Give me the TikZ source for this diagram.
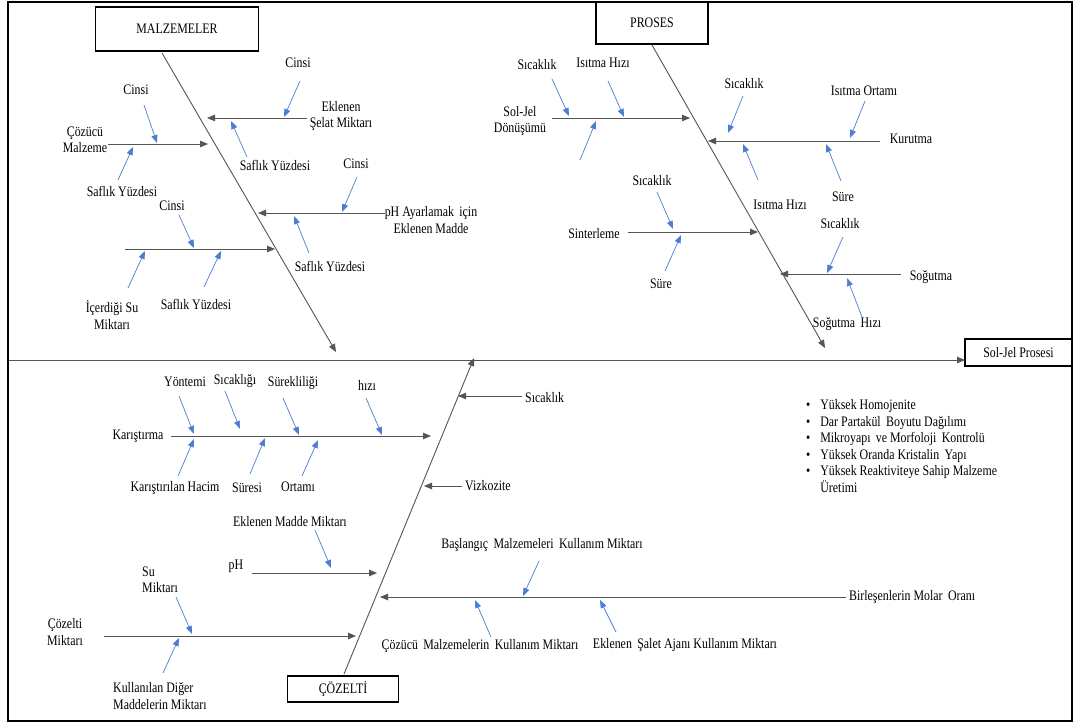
\documentclass[tikz,border=0pt]{standalone}
\usepackage{fontspec}
\setmainfont{Liberation Serif}[FakeStretch=0.82]
\usetikzlibrary{arrows.meta}
\definecolor{bonegray}{RGB}{85,85,85}
\definecolor{subblue}{RGB}{76,125,210}
\tikzset{
  txt/.style={font=\fontsize{14.5}{16.5}\selectfont, inner sep=1pt, align=center},
  catbox/.style={draw=black, line width=1.4pt, fill=white, font=\fontsize{14.5}{16}\selectfont, inner sep=0pt},
  bone/.style={draw=bonegray, line width=0.9pt},
  tipbone/.style={bone, -{Triangle[length=8pt,width=6.5pt]}},
  cause/.style={draw=subblue, line width=0.7pt, -{Triangle[length=8pt,width=6pt]}}
}
\begin{document}
\begin{tikzpicture}[x=1pt,y=-1pt]
\useasboundingbox (0,0) rectangle (1075,725);
\fill[white] (0,0) rectangle (1075,725);

% ---------- category boxes ----------
\node[catbox, minimum width=163pt, minimum height=44pt] (malz) at (177,29) {MALZEMELER};
\node[catbox, minimum width=112pt, minimum height=42pt] (proses) at (652,23) {PROSES};
\node[catbox, minimum width=111pt, minimum height=26pt] (cozelti) at (343,689) {ÇÖZELTİ};
\node[catbox, minimum width=107pt, minimum height=27pt] (sonuc) at (1018.5,352.5) {Sol-Jel Prosesi};

% ---------- main spine ----------
\coordinate (spineL) at (8,360);
\coordinate (spineR) at (965,360);
\draw[tipbone] (spineL) -- (spineR);

% ---------- diagonal bones ----------
\coordinate (mTop) at (162,53);  \coordinate (mEnd) at (336,352);
\coordinate (pTop) at (652,45);  \coordinate (pEnd) at (825,348);
\coordinate (cBot) at (344,674); \coordinate (cEnd) at (474,358);
\draw[tipbone] (mTop) -- (mEnd);
\draw[tipbone] (pTop) -- (pEnd);
\draw[tipbone] (cBot) -- (cEnd);

% ================= MALZEMELER =================
\node[txt] (mCoz) at (85,140) {Çözücü\\Malzeme};
\coordinate (mb1s) at (108,144); \coordinate (mb1e) at (208,144);
\draw[tipbone] (mb1s) -- (mb1e);
\node[txt] (mCins1) at (136,90) {Cinsi};
\coordinate (a1s) at (144,105); \coordinate (a1e) at (157,143);
\draw[cause] (a1s) -- (a1e);
\node[txt] (mSaf1) at (122,191) {Saflık Yüzdesi};
\coordinate (a2s) at (118,180); \coordinate (a2e) at (133,147);
\draw[cause] (a2s) -- (a2e);

\node[txt] (mSelat) at (341,116) {Eklenen\\Şelat Miktarı};
\coordinate (mb2s) at (307,118); \coordinate (mb2e) at (207,118);
\draw[tipbone] (mb2s) -- (mb2e);
\node[txt] (mCins2) at (298,63) {Cinsi};
\coordinate (a3s) at (300,81); \coordinate (a3e) at (284,117);
\draw[cause] (a3s) -- (a3e);
\node[txt] (mSaf2) at (275,165) {Saflık Yüzdesi};
\coordinate (a4s) at (247,157); \coordinate (a4e) at (231,121);
\draw[cause] (a4s) -- (a4e);

\node[txt] (mPH) at (431,220) {pH Ayarlamak\, için\\Eklenen Madde};
\coordinate (mb3s) at (385,213); \coordinate (mb3e) at (258,213);
\draw[tipbone] (mb3s) -- (mb3e);
\node[txt] (mCins3) at (356,164) {Cinsi};
\coordinate (a5s) at (357,177); \coordinate (a5e) at (342,212);
\draw[cause] (a5s) -- (a5e);
\node[txt] (mSaf3) at (330,266) {Saflık Yüzdesi};
\coordinate (a6s) at (309,253); \coordinate (a6e) at (294,216);
\draw[cause] (a6s) -- (a6e);

\coordinate (mb4s) at (125,249); \coordinate (mb4e) at (275,249);
\draw[tipbone] (mb4s) -- (mb4e);
\node[txt] (mCins4) at (172,206) {Cinsi};
\coordinate (a7s) at (179,215); \coordinate (a7e) at (194,248);
\draw[cause] (a7s) -- (a7e);
\node[txt] (mSu) at (112,315) {İçerdiği Su\\Miktarı};
\coordinate (a8s) at (128,288); \coordinate (a8e) at (145,251);
\draw[cause] (a8s) -- (a8e);
\node[txt] (mSaf4) at (196,304) {Saflık Yüzdesi};
\coordinate (a9s) at (204,287); \coordinate (a9e) at (221,251);
\draw[cause] (a9s) -- (a9e);

% ================= PROSES =================
\node[txt] (pSJ) at (520,121) {Sol-Jel\\Dönüşümü};
\coordinate (pb1s) at (552,118); \coordinate (pb1e) at (690,118);
\draw[tipbone] (pb1s) -- (pb1e);
\node[txt] (pSic1) at (537,65) {Sıcaklık};
\coordinate (b1s) at (552,79); \coordinate (b1e) at (569,116);
\draw[cause] (b1s) -- (b1e);
\node[txt] (pIs1) at (603,63) {Isıtma Hızı};
\coordinate (b2s) at (608,81); \coordinate (b2e) at (624,117);
\draw[cause] (b2s) -- (b2e);
\coordinate (b3s) at (580,160); \coordinate (b3e) at (596,121);
\draw[cause] (b3s) -- (b3e);

\node[txt] (pKur) at (911,139) {Kurutma};
\coordinate (pb2s) at (880,141); \coordinate (pb2e) at (708,141);
\draw[tipbone] (pb2s) -- (pb2e);
\node[txt] (pSic2) at (744,84) {Sıcaklık};
\coordinate (b4s) at (743,96); \coordinate (b4e) at (728,133);
\draw[cause] (b4s) -- (b4e);
\node[txt] (pOrt) at (864,91) {Isıtma Ortamı};
\coordinate (b5s) at (865,101); \coordinate (b5e) at (850,138);
\draw[cause] (b5s) -- (b5e);
\node[txt] (pIs2) at (780,205) {Isıtma Hızı};
\coordinate (b6s) at (758,180); \coordinate (b6e) at (743,144);
\draw[cause] (b6s) -- (b6e);
\node[txt] (pSure1) at (843,197) {Süre};
\coordinate (b7s) at (841,181); \coordinate (b7e) at (826,144);
\draw[cause] (b7s) -- (b7e);

\node[txt] (pSin) at (594,234) {Sinterleme};
\coordinate (pb3s) at (628,232); \coordinate (pb3e) at (758,232);
\draw[tipbone] (pb3s) -- (pb3e);
\node[txt] (pSic3) at (652,181) {Sıcaklık};
\coordinate (b8s) at (657,192); \coordinate (b8e) at (673,229);
\draw[cause] (b8s) -- (b8e);
\node[txt] (pSure2) at (661,284) {Süre};
\coordinate (b9s) at (665,271); \coordinate (b9e) at (681,235);
\draw[cause] (b9s) -- (b9e);

\node[txt] (pSog) at (931,277) {Soğutma};
\coordinate (pb4s) at (901,274); \coordinate (pb4e) at (780,274);
\draw[tipbone] (pb4s) -- (pb4e);
\node[txt] (pSic4) at (840,224) {Sıcaklık};
\coordinate (b10s) at (843,237); \coordinate (b10e) at (827,273);
\draw[cause] (b10s) -- (b10e);
\node[txt] (pSogH) at (847,324) {Soğutma\, Hızı};
\coordinate (b11s) at (862,317); \coordinate (b11e) at (847,278);
\draw[cause] (b11s) -- (b11e);

% ================= ÇÖZELTİ =================
\node[txt, anchor=west] (cSic) at (524,398) {Sıcaklık};
\coordinate (cb1s) at (522,396); \coordinate (cb1e) at (458,396);
\draw[tipbone] (cb1s) -- (cb1e);
\node[txt, anchor=west] (cViz) at (464,486) {Vizkozite};
\coordinate (cb2s) at (462,486); \coordinate (cb2e) at (424,486);
\draw[tipbone] (cb2s) -- (cb2e);

\node[txt] (cKar) at (138,436) {Karıştırma};
\coordinate (cb3s) at (171,436); \coordinate (cb3e) at (431,436);
\draw[tipbone] (cb3s) -- (cb3e);
\node[txt] (cYon) at (185,382) {Yöntemi};
\coordinate (c1s) at (179,396); \coordinate (c1e) at (194,434);
\draw[cause] (c1s) -- (c1e);
\node[txt] (cSicg) at (235,381) {Sıcaklığı};
\coordinate (c2s) at (225,391); \coordinate (c2e) at (240,429);
\draw[cause] (c2s) -- (c2e);
\node[txt] (cSur) at (293,383) {Sürekliliği};
\coordinate (c3s) at (283,398); \coordinate (c3e) at (299,435);
\draw[cause] (c3s) -- (c3e);
\node[txt] (cHiz) at (367,385) {hızı};
\coordinate (c4s) at (366,398); \coordinate (c4e) at (382,435);
\draw[cause] (c4s) -- (c4e);
\node[txt] (cHac) at (175,488) {Karıştırılan Hacim};
\coordinate (c5s) at (178,476); \coordinate (c5e) at (194,439);
\draw[cause] (c5s) -- (c5e);
\node[txt] (cSuresi) at (247,488) {Süresi};
\coordinate (c6s) at (250,474); \coordinate (c6e) at (265,438);
\draw[cause] (c6s) -- (c6e);
\node[txt] (cOrt) at (298,487) {Ortamı};
\coordinate (c7s) at (302,476); \coordinate (c7e) at (318,440);
\draw[cause] (c7s) -- (c7e);

\node[txt] (cEMM) at (290,522) {Eklenen Madde Miktarı};
\coordinate (c8s) at (315,530); \coordinate (c8e) at (331,568);
\draw[cause] (c8s) -- (c8e);
\node[txt] (cPH) at (236,566) {pH};
\coordinate (cb4s) at (252,573); \coordinate (cb4e) at (377,573);
\draw[tipbone] (cb4s) -- (cb4e);

\node[txt] (cBas) at (542,545) {Başlangıç\, Malzemeleri\, Kullanım Miktarı};
\coordinate (c9s) at (539,561); \coordinate (c9e) at (523,596);
\draw[cause] (c9s) -- (c9e);
\node[txt, anchor=west] (cMol) at (848,597) {Birleşenlerin Molar\, Oranı};
\coordinate (cb5s) at (846,597); \coordinate (cb5e) at (380,597);
\draw[tipbone] (cb5s) -- (cb5e);
\node[txt] (cCozKul) at (480,646) {Çözücü\, Malzemelerin\, Kullanım Miktarı};
\coordinate (c10s) at (491,637); \coordinate (c10e) at (475,600);
\draw[cause] (c10s) -- (c10e);
\node[txt] (cSalet) at (685,645) {Eklenen\, Şalet Ajanı Kullanım Miktarı};
\coordinate (c11s) at (616,632); \coordinate (c11e) at (600,600);
\draw[cause] (c11s) -- (c11e);

\node[txt] (cCM) at (65,632) {Çözelti\\Miktarı};
\coordinate (cb6s) at (104,636); \coordinate (cb6e) at (356,636);
\draw[tipbone] (cb6s) -- (cb6e);
\node[txt, align=left, anchor=west] (cSu) at (141,580) {Su\\Miktarı};
\coordinate (c12s) at (176,597); \coordinate (c12e) at (192,634);
\draw[cause] (c12s) -- (c12e);
\node[txt, align=left, anchor=west] (cDiger) at (112,696) {Kullanılan Diğer\\Maddelerin Miktarı};
\coordinate (c13s) at (163,673); \coordinate (c13e) at (179,638);
\draw[cause] (c13s) -- (c13e);

% ---------- outcome properties ----------
\node[anchor=north west, inner sep=0pt, font=\fontsize{14.5}{16.5}\selectfont] (props) at (806,398) {%
  \begin{tabular}{@{}l@{\hspace{10pt}}l@{}}
  \textbullet & Yüksek Homojenite\\
  \textbullet & Dar Partakül\, Boyutu Dağılımı\\
  \textbullet & Mikroyapı\, ve Morfoloji\, Kontrolü\\
  \textbullet & Yüksek Oranda Kristalin\, Yapı\\
  \textbullet & Yüksek Reaktiviteye Sahip Malzeme\\
              & Üretimi
  \end{tabular}};

% ---------- outer frame ----------
\draw[line width=2.6pt] (8,2) rectangle (1072,721);
\end{tikzpicture}
\end{document}
